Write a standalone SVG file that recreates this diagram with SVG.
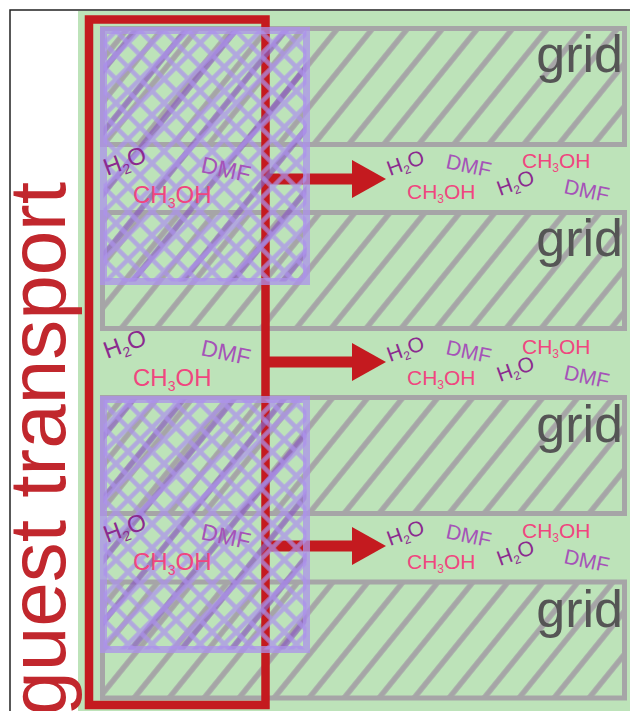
<svg xmlns="http://www.w3.org/2000/svg" width="630" height="711" viewBox="0 0 630 711">
<style>
.gbox{fill:none;stroke:#a6a5a7;stroke-width:5}
.gtxt{font-family:"Liberation Sans",Arial,sans-serif;font-size:52px;fill:#555555;text-anchor:end}
.mol{font-family:"Liberation Sans",Arial,sans-serif}
.h2o{fill:#8b2a8f}
.dmf{fill:#a553b8}
.meoh{fill:#f0467f}
.big{font-size:24px}
.sm{font-size:21px}
.pbox{fill:none;stroke:rgba(172,145,235,0.75);stroke-width:7}
</style>
<defs>
<pattern id="h1" patternUnits="userSpaceOnUse" width="27.2" height="10" patternTransform="translate(443,28) rotate(39)"><rect x="0" y="0" width="2.7" height="10" fill="#a6a5a7"/><rect x="24.5" y="0" width="2.7" height="10" fill="#a6a5a7"/></pattern>
<pattern id="h2" patternUnits="userSpaceOnUse" width="27.2" height="10" patternTransform="translate(320,212.5) rotate(39)"><rect x="0" y="0" width="2.7" height="10" fill="#a6a5a7"/><rect x="24.5" y="0" width="2.7" height="10" fill="#a6a5a7"/></pattern>
<pattern id="h3" patternUnits="userSpaceOnUse" width="27.2" height="10" patternTransform="translate(333,397.5) rotate(39)"><rect x="0" y="0" width="2.7" height="10" fill="#a6a5a7"/><rect x="24.5" y="0" width="2.7" height="10" fill="#a6a5a7"/></pattern>
<pattern id="h4" patternUnits="userSpaceOnUse" width="27.2" height="10" patternTransform="translate(333,582) rotate(39)"><rect x="0" y="0" width="2.7" height="10" fill="#a6a5a7"/><rect x="24.5" y="0" width="2.7" height="10" fill="#a6a5a7"/></pattern>
<pattern id="pdA" patternUnits="userSpaceOnUse" width="38.9" height="10" patternTransform="translate(185,31) rotate(39)"><rect x="0" y="0" width="2.8" height="10" fill="rgba(140,95,190,0.75)"/><rect x="36.1" y="0" width="2.8" height="10" fill="rgba(140,95,190,0.75)"/></pattern>
<pattern id="pdB" patternUnits="userSpaceOnUse" width="38.9" height="10" patternTransform="translate(183,400) rotate(39)"><rect x="0" y="0" width="2.8" height="10" fill="rgba(140,95,190,0.75)"/><rect x="36.1" y="0" width="2.8" height="10" fill="rgba(140,95,190,0.75)"/></pattern>
<pattern id="px" patternUnits="userSpaceOnUse" width="17" height="17" patternTransform="translate(104,31) rotate(45)"><path d="M0,8.5 H17 M8.5,0 V17" stroke="rgba(172,145,235,0.72)" stroke-width="4.5" fill="none"/></pattern>
<marker id="ah" markerUnits="userSpaceOnUse" markerWidth="34" markerHeight="38" refX="0" refY="19" orient="auto" viewBox="0 0 34 38"><path d="M0,0 L34,19 L0,38 Z" fill="#c41a1f"/></marker>
</defs>
<rect x="10" y="10" width="640" height="720" fill="#ffffff" stroke="#222222" stroke-width="1.5"/>
<rect x="78" y="11" width="552" height="700" fill="#bde3b9"/>

<g id="grid-1"><rect x="102.5" y="28.5" width="522" height="116" fill="url(#h1)"/><rect class="gbox" x="102.5" y="28.5" width="522" height="116"/><text class="gtxt" x="623" y="72">grid</text></g>
<g id="grid-2"><rect x="102.5" y="212.5" width="522" height="116" fill="url(#h2)"/><rect class="gbox" x="102.5" y="212.5" width="522" height="116"/><text class="gtxt" x="623" y="256">grid</text></g>
<g id="grid-3"><rect x="102.5" y="397.5" width="522" height="116" fill="url(#h3)"/><rect class="gbox" x="102.5" y="397.5" width="522" height="116"/><text class="gtxt" x="623" y="442">grid</text></g>
<g id="grid-4"><rect x="102.5" y="582" width="522" height="116" fill="url(#h4)"/><rect class="gbox" x="102.5" y="582" width="522" height="116"/><text class="gtxt" x="623" y="627">grid</text></g>

<g id="guest-transport">
<rect x="89" y="19.5" width="176.5" height="685.5" fill="none" stroke="#c41a1f" stroke-width="8.5"/>
<text transform="translate(65,182) rotate(-90)" font-family="Liberation Sans,Arial,sans-serif" font-size="80" fill="#c1272d" text-anchor="end">guest transport</text>
</g>

<g id="connectors">
<line x1="265" y1="179" x2="352" y2="179" stroke="#c41a1f" stroke-width="11" marker-end="url(#ah)"/>
<line x1="265" y1="362" x2="352" y2="362" stroke="#c41a1f" stroke-width="11" marker-end="url(#ah)"/>
<line x1="265" y1="546" x2="352" y2="546" stroke="#c41a1f" stroke-width="11" marker-end="url(#ah)"/>
</g>

<g id="layer-1">
<rect x="103.5" y="30.5" width="203" height="251" fill="url(#pdA)"/>
<rect x="103.5" y="30.5" width="203" height="251" fill="url(#px)"/>
<rect class="pbox" x="103.5" y="30.5" width="203" height="251"/>
</g>
<g id="layer-2">
<rect x="103.5" y="399.5" width="203" height="250" fill="url(#pdB)"/>
<rect x="103.5" y="399.5" width="203" height="250" fill="url(#px)"/>
<rect class="pbox" x="103.5" y="399.5" width="203" height="250"/>
</g>

<g id="guests-left-1" class="mol">
<text class="h2o big" transform="translate(107,176) rotate(-20)">H<tspan font-size="14" dy="5">2</tspan><tspan dy="-5">O</tspan></text>
<text class="dmf" font-size="23" transform="translate(200,172) rotate(12)">DMF</text>
<text class="meoh big" x="133" y="203">CH<tspan font-size="14" dy="5">3</tspan><tspan dy="-5">OH</tspan></text>
</g>
<g id="guests-left-2" class="mol">
<text class="h2o big" transform="translate(107,359) rotate(-20)">H<tspan font-size="14" dy="5">2</tspan><tspan dy="-5">O</tspan></text>
<text class="dmf" font-size="23" transform="translate(200,355) rotate(12)">DMF</text>
<text class="meoh big" x="133" y="386">CH<tspan font-size="14" dy="5">3</tspan><tspan dy="-5">OH</tspan></text>
</g>
<g id="guests-left-3" class="mol">
<text class="h2o big" transform="translate(107,543) rotate(-20)">H<tspan font-size="14" dy="5">2</tspan><tspan dy="-5">O</tspan></text>
<text class="dmf" font-size="23" transform="translate(200,539) rotate(12)">DMF</text>
<text class="meoh big" x="133" y="570">CH<tspan font-size="14" dy="5">3</tspan><tspan dy="-5">OH</tspan></text>
</g>

<g id="guests-right-1" class="mol sm">
<text class="h2o" transform="translate(390,176) rotate(-20)">H<tspan font-size="12" dy="4">2</tspan><tspan dy="-4">O</tspan></text>
<text class="dmf" transform="translate(445,168) rotate(12)">DMF</text>
<text class="meoh" x="522" y="168">CH<tspan font-size="12" dy="4">3</tspan><tspan dy="-4">OH</tspan></text>
<text class="meoh" x="407" y="199">CH<tspan font-size="12" dy="4">3</tspan><tspan dy="-4">OH</tspan></text>
<text class="h2o" transform="translate(500,196) rotate(-20)">H<tspan font-size="12" dy="4">2</tspan><tspan dy="-4">O</tspan></text>
<text class="dmf" transform="translate(563,193) rotate(12)">DMF</text>
</g>
<g id="guests-right-2" class="mol sm">
<text class="h2o" transform="translate(390,362) rotate(-20)">H<tspan font-size="12" dy="4">2</tspan><tspan dy="-4">O</tspan></text>
<text class="dmf" transform="translate(445,354) rotate(12)">DMF</text>
<text class="meoh" x="522" y="354">CH<tspan font-size="12" dy="4">3</tspan><tspan dy="-4">OH</tspan></text>
<text class="meoh" x="407" y="385">CH<tspan font-size="12" dy="4">3</tspan><tspan dy="-4">OH</tspan></text>
<text class="h2o" transform="translate(500,382) rotate(-20)">H<tspan font-size="12" dy="4">2</tspan><tspan dy="-4">O</tspan></text>
<text class="dmf" transform="translate(563,379) rotate(12)">DMF</text>
</g>
<g id="guests-right-3" class="mol sm">
<text class="h2o" transform="translate(390,546) rotate(-20)">H<tspan font-size="12" dy="4">2</tspan><tspan dy="-4">O</tspan></text>
<text class="dmf" transform="translate(445,538) rotate(12)">DMF</text>
<text class="meoh" x="522" y="538">CH<tspan font-size="12" dy="4">3</tspan><tspan dy="-4">OH</tspan></text>
<text class="meoh" x="407" y="569">CH<tspan font-size="12" dy="4">3</tspan><tspan dy="-4">OH</tspan></text>
<text class="h2o" transform="translate(500,566) rotate(-20)">H<tspan font-size="12" dy="4">2</tspan><tspan dy="-4">O</tspan></text>
<text class="dmf" transform="translate(563,563) rotate(12)">DMF</text>
</g>
</svg>
